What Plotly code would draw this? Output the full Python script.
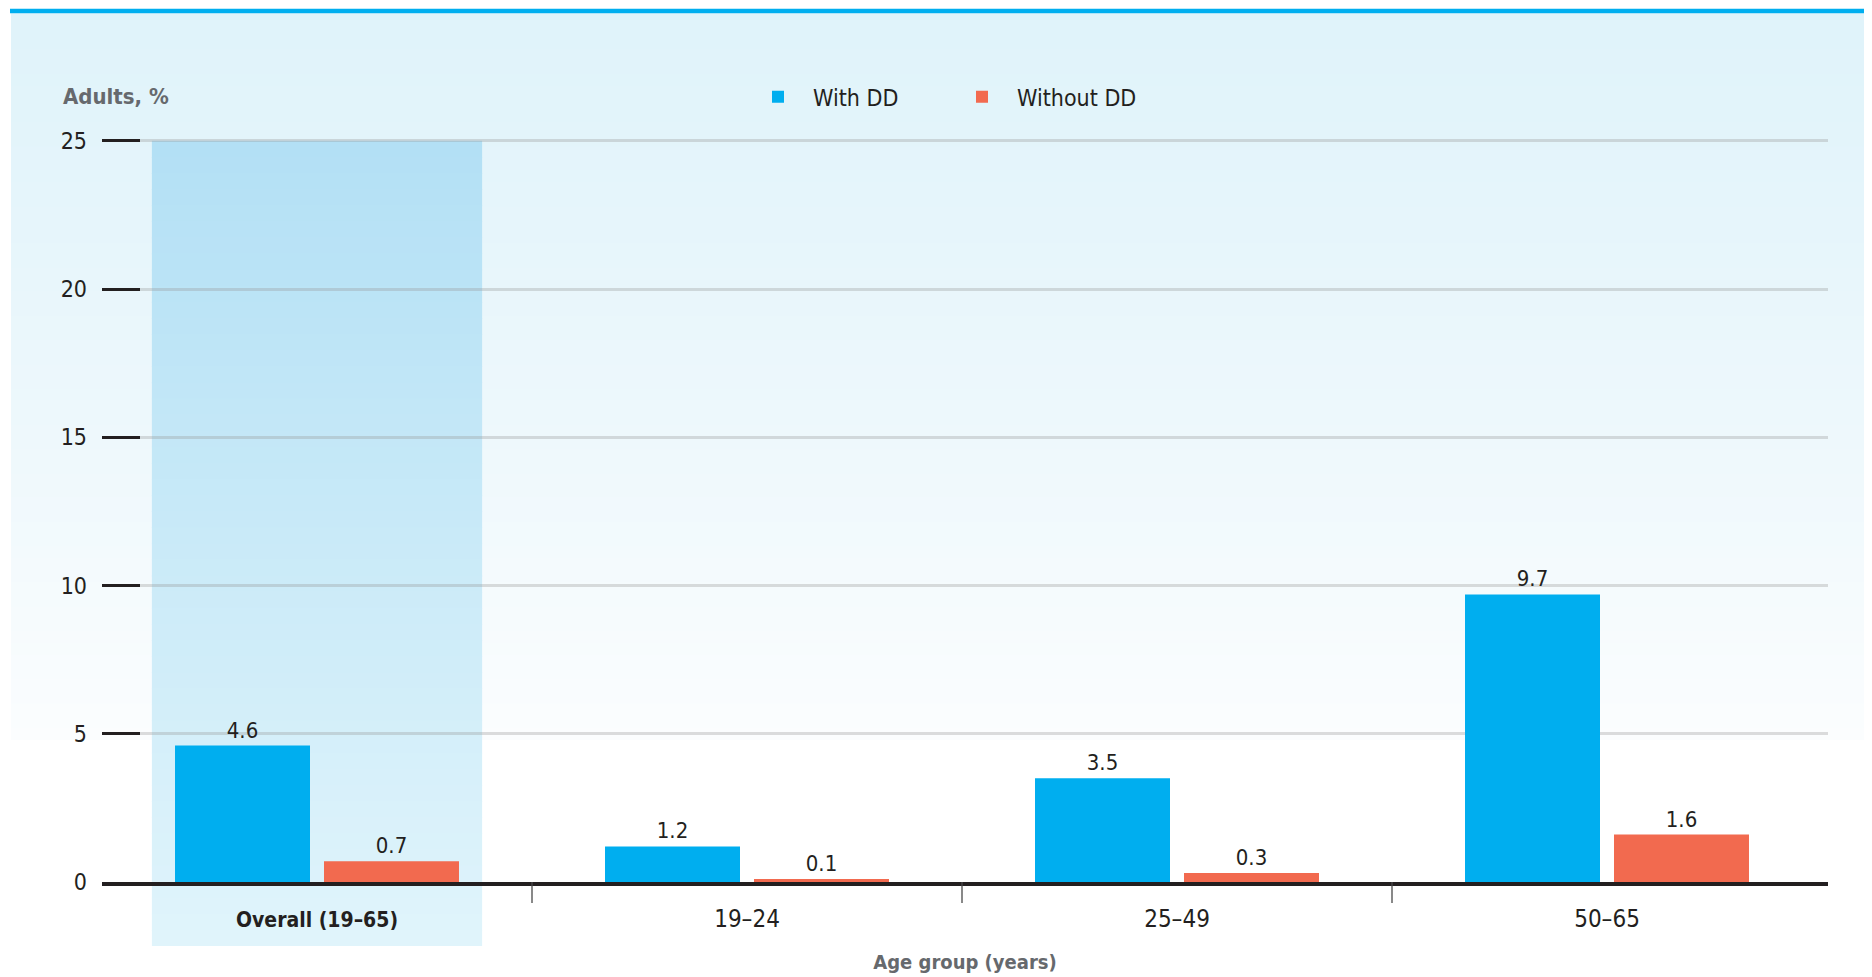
import plotly.graph_objects as go

# ---------------- data ----------------
categories = ["Overall (19–65)", "19–24", "25–49", "50–65"]
highlight_category = "Overall (19–65)"
with_dd = [4.6, 1.2, 3.5, 9.7]
without_dd = [0.7, 0.1, 0.3, 1.6]
series_names = ["With DD", "Without DD"]
y_ticks = [0, 5, 10, 15, 20, 25]
y_title = "Adults, %"
x_title = "Age group (years)"

# ---------------- layout geometry (screen px; page body adds 8px offset) ----------------
OFF = 8
W, H = 1864, 969
Y_MAX = 25.06
unit = (882 - 141) / 25.0            # px per y unit
plot_left, plot_right = 102, 1828   # screen px
plot_bottom = 882
plot_top = plot_bottom - Y_MAX * unit
L = plot_left - OFF
R = W - (plot_right - OFF)
T = plot_top - OFF
B = H - (plot_bottom - OFF)
PW, PH = W - L - R, H - T - B
X_RANGE = [-0.5, -0.5 + (plot_right - plot_left) / 430.0]

FONT = "'Liberation Sans Narrow', 'DejaVu Sans Condensed', 'Roboto', sans-serif"
DARK = "#231f20"
GREY = "#66696d"
BLUE = "#00aeef"
ORANGE = "#f26a4f"


def px(xs):
    return (xs - OFF - L) / PW


def py(ys):
    return (H - B - (ys - OFF)) / PH


def mix(c1, c2, t):
    a = [int(c1[i:i + 2], 16) for i in (1, 3, 5)]
    b = [int(c2[i:i + 2], 16) for i in (1, 3, 5)]
    return "#" + "".join(f"{round(a[k] + (b[k] - a[k]) * t):02x}" for k in range(3))


shapes = []

# background vertical gradient panel
n = 60
top, bot = 13.5, 740
for i in range(n):
    y0 = top + (bot - top) * i / n
    y1 = top + (bot - top) * (i + 1) / n + 0.8
    shapes.append(dict(type="rect", xref="paper", yref="paper", layer="below",
                       x0=px(11), x1=px(1880), y0=py(min(y1, bot)), y1=py(y0),
                       fillcolor=mix("#e0f3fa", "#fbfdfe", (i / (n - 1)) ** 1.2),
                       line=dict(width=0)))

# top accent line
shapes.append(dict(type="rect", xref="paper", yref="paper", layer="below",
                   x0=px(10), x1=px(1880), y0=py(13.5), y1=py(9),
                   fillcolor=BLUE, line=dict(width=0)))

# highlight band behind first category (gradient)
hi = categories.index(highlight_category)
nb = 50
btop, bbot = 141, 946
for i in range(nb):
    y0 = btop + (bbot - btop) * i / nb
    y1 = btop + (bbot - btop) * (i + 1) / nb + 0.8
    shapes.append(dict(type="rect", xref="x", yref="paper", layer="below",
                       x0=hi - 0.384, x1=hi + 0.384, y0=py(min(y1, bbot)), y1=py(y0),
                       fillcolor=mix("#b3e0f5", "#e0f4fb", i / (nb - 1)),
                       line=dict(width=0)))

# category separators
for i in range(len(categories) - 1):
    shapes.append(dict(type="line", xref="x", yref="paper",
                       x0=i + 0.5, x1=i + 0.5, y0=0, y1=py(903),
                       line=dict(color="#4a4a4a", width=1.3)))

tick_text = [
    f"<b><span style='font-size:21px'>{c}</span></b>" if c == highlight_category else c
    for c in categories
]

fig = go.Figure()
fig.add_trace(go.Bar(name=series_names[0], x=categories, y=with_dd,
                     marker=dict(color=BLUE, line=dict(width=0)),
                     text=[f"{v:g}" for v in with_dd], textposition="outside",
                     textfont=dict(size=22, color=DARK, family=FONT),
                     cliponaxis=False))
fig.add_trace(go.Bar(name=series_names[1], x=categories, y=without_dd,
                     marker=dict(color=ORANGE, line=dict(width=0)),
                     text=[f"{v:g}" for v in without_dd], textposition="outside",
                     textfont=dict(size=22, color=DARK, family=FONT),
                     cliponaxis=False))

fig.update_layout(
    width=W, height=H,
    margin=dict(l=L, r=R, t=T, b=B, pad=0, autoexpand=False),
    paper_bgcolor="white", plot_bgcolor="rgba(0,0,0,0)",
    barmode="group", bargap=0.307, bargroupgap=0.094,
    font=dict(family=FONT, color=DARK, size=22),
    shapes=shapes,
    showlegend=True,
    legend=dict(orientation="h", x=px(743), xanchor="left", y=py(97), yanchor="middle",
                yref="paper", xref="paper", itemwidth=60,
                entrywidth=129, entrywidthmode="pixels",
                bgcolor="rgba(0,0,0,0)", font=dict(size=23, color=DARK, family=FONT),
                traceorder="normal"),
    annotations=[dict(text=f"<b>{y_title}</b>", xref="paper", yref="paper",
                      x=px(61), y=py(97), xanchor="left", yanchor="middle",
                      showarrow=False, font=dict(size=22, color=GREY, family=FONT))],
    xaxis=dict(range=X_RANGE, showline=True, linecolor=DARK, linewidth=4,
               ticks="", showgrid=False, zeroline=False, automargin=False,
               tickmode="array", tickvals=categories, ticktext=tick_text,
               tickfont=dict(size=24, color=DARK, family=FONT), ticklabelstandoff=12,
               title=dict(text=f"<b>{x_title}</b>", standoff=24,
                          font=dict(size=20, color=GREY, family=FONT))),
    yaxis=dict(range=[0, Y_MAX], tickvals=y_ticks, ticks="inside", ticklen=38,
               tickwidth=3, tickcolor=DARK, showgrid=True, automargin=False,
               gridcolor="rgba(150,150,150,0.32)", gridwidth=3, zeroline=False,
               showline=False, ticklabelstandoff=14,
               tickfont=dict(size=23, color=DARK, family=FONT, weight=300)),
)

fig.write_html("out.html")
